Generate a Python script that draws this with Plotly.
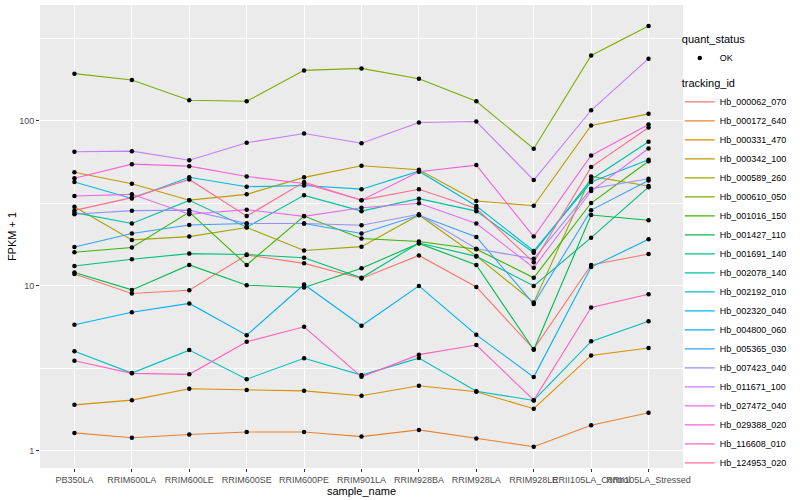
import plotly.graph_objects as go

samples = ["PB350LA", "RRIM600LA", "RRIM600LE", "RRIM600SE", "RRIM600PE", "RRIM901LA",
           "RRIM928BA", "RRIM928LA", "RRIM928LE", "RRII105LA_Control", "RRII105LA_Stressed"]

tracking_ids = ["Hb_000062_070", "Hb_000172_640", "Hb_000331_470", "Hb_000342_100",
                "Hb_000589_260", "Hb_000610_050", "Hb_001016_150", "Hb_001427_110",
                "Hb_001691_140", "Hb_002078_140", "Hb_002192_010", "Hb_002320_040",
                "Hb_004800_060", "Hb_005365_030", "Hb_007423_040", "Hb_011671_100",
                "Hb_027472_040", "Hb_029388_020", "Hb_116608_010", "Hb_124953_020"]

colors = ["#F8766D", "#EA8331", "#D89000", "#C09B00", "#A3A500", "#7CAE00", "#39B600",
          "#00BB4E", "#00BF7D", "#00C1A3", "#00BFC4", "#00BAE0", "#00B0F6", "#35A2FF",
          "#9590FF", "#C77CFF", "#E76BF3", "#FA62DB", "#FF62BC", "#FF6C91"]

hb_000062_070 = [11.8, 9.0, 9.42, 15.4, 13.7, 11.1, 15.3, 9.86, 4.14, 13.4, 15.6]
hb_000172_640 = [1.285, 1.20, 1.255, 1.30, 1.30, 1.22, 1.34, 1.19, 1.06, 1.43, 1.70]
hb_000331_470 = [1.90, 2.03, 2.38, 2.34, 2.31, 2.16, 2.48, 2.28, 1.80, 3.79, 4.20]
hb_000342_100 = [48.9, 41.6, 33.1, 35.9, 45.5, 53.5, 50.6, 32.7, 30.6, 93.8, 110.4]
hb_000589_260 = [30.2, 19.0, 19.9, 22.6, 16.4, 17.3, 26.9, 15.2, 7.94, 46.1, 40.3]
hb_000610_050 = [193.6, 177.3, 133.4, 131.6, 202.6, 208.3, 180.4, 131.6, 67.8, 249.7, 376.0]
hb_001016_150 = [16.0, 17.1, 28.0, 13.4, 26.5, 19.4, 18.6, 16.7, 11.2, 31.8, 57.0]
hb_001427_110 = [12.05, 9.46, 13.4, 10.1, 9.78, 12.8, 18.1, 13.4, 4.10, 26.9, 25.0]
hb_001691_140 = [13.2, 14.5, 15.7, 15.5, 14.8, 11.2, 18.2, 15.1, 10.0, 19.6, 39.7]
hb_002078_140 = [27.8, 23.9, 33.0, 22.7, 35.4, 28.4, 33.8, 28.4, 15.9, 44.2, 74.8]
hb_002192_010 = [4.01, 2.96, 4.08, 2.72, 3.64, 2.88, 3.65, 2.30, 2.02, 4.61, 6.11]
hb_002320_040 = [42.6, 33.9, 45.6, 39.9, 40.6, 38.6, 49.6, 30.5, 16.3, 42.6, 58.2]
hb_004800_060 = [5.81, 6.93, 7.83, 5.03, 10.2, 5.73, 10.0, 5.05, 2.80, 13.0, 19.2]
hb_005365_030 = [17.2, 20.8, 23.4, 23.9, 23.9, 20.8, 26.8, 19.8, 7.78, 28.8, 43.6]
hb_007423_040 = [27.2, 28.6, 28.8, 23.9, 23.9, 23.3, 27.2, 16.8, 14.6, 38.8, 44.6]
hb_011671_100 = [65.0, 65.6, 57.8, 73.7, 83.9, 73.3, 97.8, 99.2, 43.8, 116.1, 238.5]
hb_027472_040 = [35.1, 35.9, 27.2, 29.0, 26.4, 29.8, 31.7, 23.9, 12.9, 37.6, 68.1]
hb_029388_020 = [45.0, 54.7, 53.2, 46.1, 41.8, 33.1, 49.2, 54.0, 19.9, 61.8, 95.1]
hb_116608_010 = [3.52, 2.95, 2.91, 4.58, 5.65, 2.81, 3.83, 4.38, 2.03, 7.40, 8.91]
hb_124953_020 = [28.7, 34.3, 44.2, 26.5, 42.6, 33.1, 38.5, 29.5, 13.9, 52.5, 91.2]

series = [hb_000062_070, hb_000172_640, hb_000331_470, hb_000342_100, hb_000589_260,
          hb_000610_050, hb_001016_150, hb_001427_110, hb_001691_140, hb_002078_140,
          hb_002192_010, hb_002320_040, hb_004800_060, hb_005365_030, hb_007423_040,
          hb_011671_100, hb_027472_040, hb_029388_020, hb_116608_010, hb_124953_020]

FONT = "Liberation Sans"
fig = go.Figure()

for name, vals, col in zip(tracking_ids, series, colors):
    fig.add_trace(go.Scatter(x=samples, y=vals, mode="lines", name=name,
                             line=dict(color=col, width=1.1), legend="legend"))

all_x = [s for vals in series for s in samples]
all_y = [v for vals in series for v in vals]
fig.add_trace(go.Scatter(x=all_x, y=all_y, mode="markers", name="OK",
                         marker=dict(color="black", size=4.5, symbol="circle"),
                         legend="legend2"))

fig.update_layout(
    width=800, height=500, autosize=False,
    margin=dict(l=40, r=117, t=5, b=32),
    paper_bgcolor="white", plot_bgcolor="#EBEBEB",
    font=dict(family=FONT, size=9, color="#4D4D4D"),
    xaxis=dict(type="category", categoryorder="array", categoryarray=samples,
               range=[-0.6, 10.6], showgrid=True, gridcolor="white", gridwidth=1.1,
               zeroline=False, showline=False, ticks="outside", ticklen=3,
               tickcolor="#333333", tickangle=0, automargin=False,
               tickfont=dict(family=FONT, size=9, color="#4D4D4D"),
               title=dict(text="sample_name", standoff=2,
                          font=dict(family=FONT, size=11, color="black"))),
    yaxis=dict(type="log", range=[-0.104, 2.703], tickvals=[1, 10, 100],
               ticktext=["1", "10", "100"], showgrid=True, gridcolor="white",
               gridwidth=1.1, zeroline=False, showline=False, ticks="outside",
               ticklen=3, tickcolor="#333333", automargin=False,
               tickfont=dict(family=FONT, size=9, color="#4D4D4D"),
               minor=dict(tickvals=[3.1623, 31.623, 316.23], showgrid=True,
                          gridcolor="white", gridwidth=0.5, ticks=""),
               title=dict(text="FPKM + 1", standoff=0,
                          font=dict(family=FONT, size=11, color="black"))),
    legend=dict(x=0.995, xanchor="left", y=0.853, yanchor="top",
                bgcolor="rgba(0,0,0,0)", itemwidth=30,
                title=dict(text="tracking_id", font=dict(family=FONT, size=11, color="black")),
                font=dict(family=FONT, size=9, color="black"), tracegroupgap=0),
    legend2=dict(x=0.995, xanchor="left", y=0.948, yanchor="top",
                 bgcolor="rgba(0,0,0,0)", itemwidth=30,
                 title=dict(text="quant_status", font=dict(family=FONT, size=11, color="black")),
                 font=dict(family=FONT, size=9, color="black")),
)

fig.write_html("out.html", config={"displayModeBar": False},
               post_script="document.body.style.margin='0';")
